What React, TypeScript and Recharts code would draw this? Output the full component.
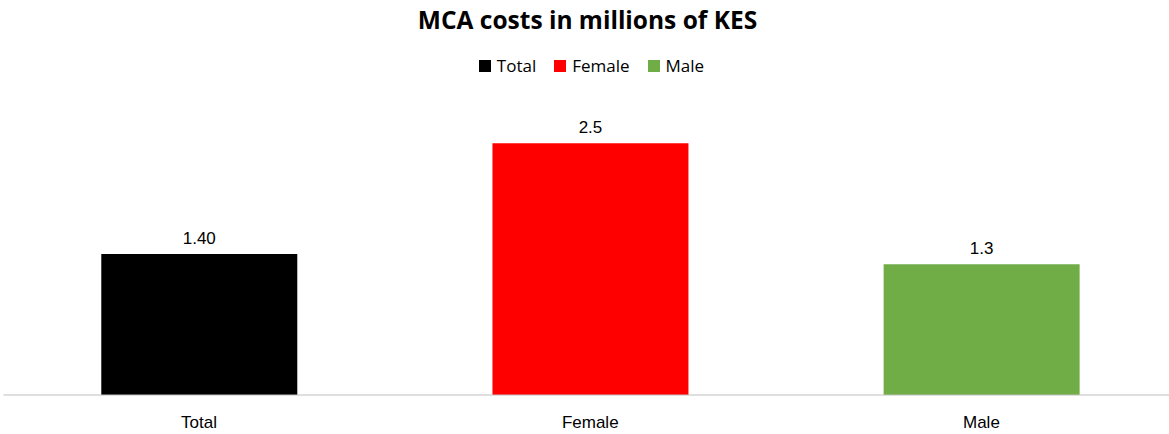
import React from "react";
import { BarChart, Bar, XAxis, YAxis, Cell, LabelList } from "recharts";

const categories = ["Total", "Female", "Male"];
const values = [1.4, 2.5, 1.3];
const valueLabels = ["1.40", "2.5", "1.3"];
const colors = ["#000000", "#ff0000", "#70ad47"];

const data = categories.map((name, i) => ({
    name,
    value: values[i],
    label: valueLabels[i],
}));

function Header() {
    return (
        <>
            <div
                style={{
                    position: "absolute",
                    left: 3,
                    top: 6,
                    width: 1169,
                    textAlign: "center",
                    fontFamily: "'Open Sans', sans-serif",
                    fontWeight: 700,
                    fontSize: 24.5,
                    lineHeight: "28px",
                    color: "#000",
                }}
            >
                MCA costs in millions of KES
            </div>
            <div
                style={{
                    position: "absolute",
                    left: 7,
                    top: 55,
                    width: 1169,
                    display: "flex",
                    justifyContent: "center",
                    gap: 18,
                    fontFamily: "'Open Sans', sans-serif",
                    fontSize: 17,
                    lineHeight: "22px",
                    color: "#000",
                }}
            >
                {categories.map((c, i) => (
                    <div key={c} style={{ display: "flex", alignItems: "center", gap: 6 }}>
                        <span style={{ width: 12, height: 12, background: colors[i], display: "inline-block" }} />
                        <span>{c}</span>
                    </div>
                ))}
            </div>
        </>
    );
}

export default function App() {
    return (
        <div
            style={{
                position: "absolute",
                left: 0,
                top: 0,
                width: 1169,
                height: 434,
                overflow: "hidden",
                background: "#fff",
            }}
        >
            <Header />
            <BarChart
                width={1177}
                height={434}
                data={data}
                margin={{ top: 95, right: 0, left: 3.5, bottom: 9 }}
                barCategoryGap="25%"
            >
                <XAxis
                    dataKey="name"
                    height={30}
                    axisLine={{ stroke: "#bfbfbf", strokeWidth: 1 }}
                    tickLine={false}
                    tickMargin={15}
                    tick={{ fill: "#000", fontSize: 17, fontFamily: "'Liberation Sans', Arial, sans-serif" }}
                />
                <YAxis hide domain={[0, 2.98]} />
                <Bar dataKey="value" isAnimationActive={false}>
                    {data.map((d, i) => (
                        <Cell key={d.name} fill={colors[i]} />
                    ))}
                    <LabelList
                        dataKey="label"
                        position="top"
                        offset={10}
                        fill="#000"
                        fontSize={17}
                        fontFamily="'Liberation Sans', Arial, sans-serif"
                    />
                </Bar>
            </BarChart>
        </div>
    );
}
